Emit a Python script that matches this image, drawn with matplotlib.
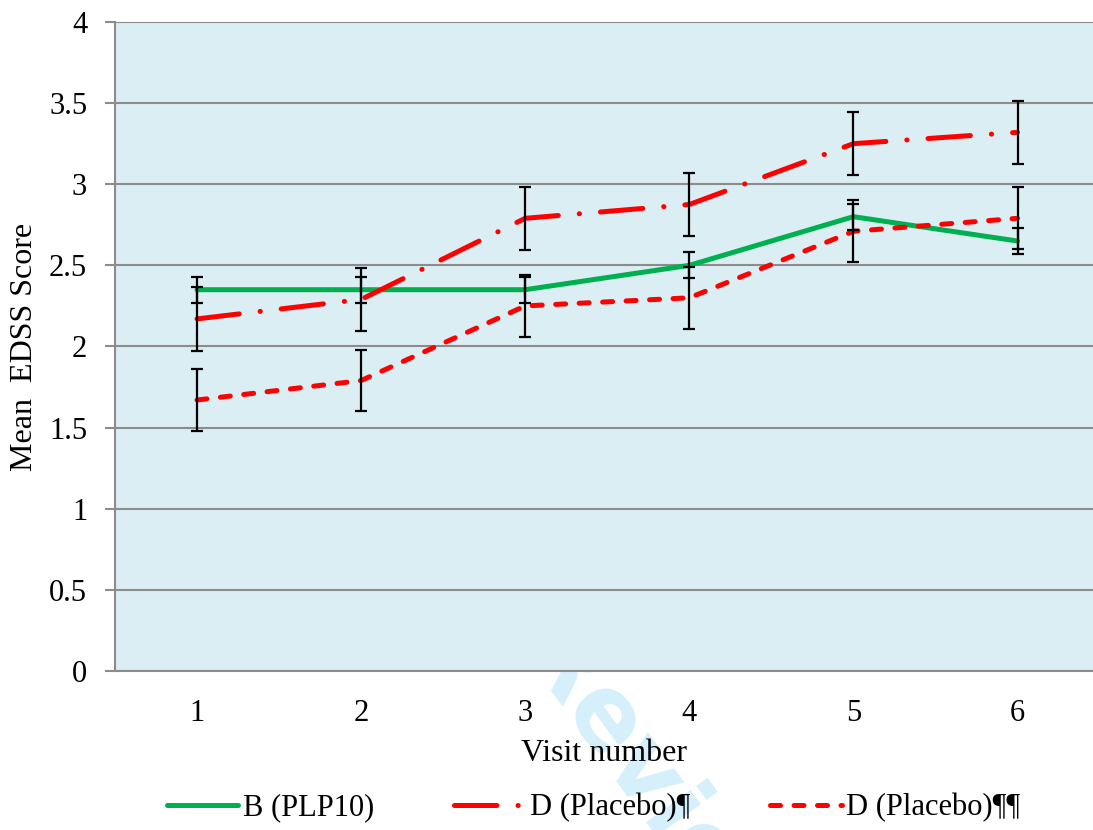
import numpy as np
import matplotlib.pyplot as plt

visits = [1, 2, 3, 4, 5, 6]

b_plp10 = [2.35, 2.35, 2.35, 2.50, 2.80, 2.65]
b_plp10_err = [0.08, 0.08, 0.08, 0.08, 0.08, 0.08]

d_placebo1 = [2.17, 2.29, 2.79, 2.875, 3.25, 3.32]
d_placebo1_err = [0.195, 0.195, 0.195, 0.195, 0.195, 0.195]

d_placebo2 = [1.67, 1.79, 2.25, 2.30, 2.71, 2.79]
d_placebo2_err = [0.19, 0.19, 0.19, 0.19, 0.19, 0.19]

labels = ['B (PLP10)', 'D (Placebo)¶', 'D (Placebo)¶¶']
y_ticks = [0, 0.5, 1, 1.5, 2, 2.5, 3, 3.5, 4]
y_tick_labels = ['0', '0.5', '1', '1.5', '2', '2.5', '3', '3.5', '4']

plt.rcParams['font.family'] = ['Liberation Serif', 'DejaVu Serif']

fig = plt.figure(figsize=(10.93, 8.3), dpi=100)
ax = fig.add_axes([0.1052, 0.1916, 0.8948, 0.7819])
ax.set_facecolor('#DBEEF4')

# faint watermark sitting behind the plot area
fig.text(0.49, 0.232, 'Review', rotation=-54, fontsize=72, fontweight='bold',
         family='DejaVu Sans', color='#D6F0FB', ha='left', va='center',
         rotation_mode='anchor', zorder=-1)

lw = 3.6
ax.plot(visits, b_plp10, color='#00B050', lw=lw, solid_capstyle='round',
        label=labels[0], zorder=3)
ax.plot(visits, d_placebo1, color='#FF0000', lw=lw, dashes=(8.5, 4.2, 0.05, 4.2),
        dash_capstyle='round', label=labels[1], zorder=3)
ax.plot(visits, d_placebo2, color='#FF0000', lw=lw, dashes=(2.0, 2.7),
        dash_capstyle='round', label=labels[2], zorder=3)

for vals, errs in [(b_plp10, b_plp10_err), (d_placebo1, d_placebo1_err),
                   (d_placebo2, d_placebo2_err)]:
    ax.errorbar(visits, vals, yerr=errs, fmt='none', ecolor='black',
                elinewidth=1.6, capsize=4.5, capthick=1.6, zorder=4)

ax.set_xlim(0.5, 6.46)
ax.set_ylim(0, 4)
ax.set_yticks(y_ticks)
ax.set_yticklabels(y_tick_labels)
ax.set_xticks(visits)
ax.yaxis.grid(True, color='#8C8C8C', lw=1.5)
ax.set_axisbelow(True)

for side in ['top', 'right']:
    ax.spines[side].set_visible(False)
for side in ['left', 'bottom']:
    ax.spines[side].set_color('#8C8C8C')
    ax.spines[side].set_linewidth(1.5)

ax.tick_params(axis='y', length=7, width=1.5, color='#8C8C8C', labelsize=22, pad=13)
ax.tick_params(axis='x', length=0, labelsize=22, pad=20)

ax.set_xlabel('Visit number', fontsize=23, labelpad=8)
ax.set_ylabel('Mean  EDSS Score', fontsize=23, labelpad=7)

fig.legend(loc='lower center', bbox_to_anchor=(0.543, -0.024), ncol=3, frameon=False,
           fontsize=22, handlelength=2.35, columnspacing=2.6, handletextpad=0.15)

fig.savefig('out.png', dpi=100)
